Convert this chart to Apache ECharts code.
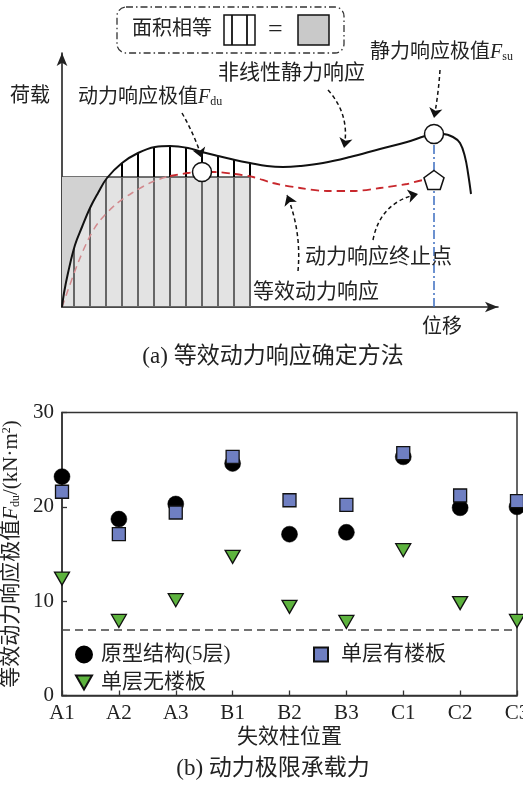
<!DOCTYPE html>
<html><head><meta charset="utf-8">
<script src="https://cdn.jsdelivr.net/npm/echarts/dist/echarts.min.js"></script>
<style>html,body{margin:0;padding:0;background:#fff}#c{width:523px;height:785px}</style>
</head><body><div id="c"></div>
<script>
// ===== (b) scatter data =====
const categories = ['A1','A2','A3','B1','B2','B3','C1','C2','C3'];
const prototype5 = [23.2,18.7,20.3,24.6,17.1,17.3,25.3,19.9,20.0];
const singleWithSlab = [21.6,17.1,19.4,25.3,20.7,20.2,25.7,21.2,20.6];
const singleNoSlab = [12.4,7.9,10.1,14.7,9.4,7.8,15.4,9.8,7.9];
const thresholdValue = 7.0;
const yTicks = [0,10,20,30];
const seriesNames = ['原型结构(5层)','单层有楼板','单层无楼板'];

// ===== (a) schematic data: [displacement, load] in schematic units =====
const staticCurve = [[0,0],[2,14],[6,34],[13,62],[20,80],[28,99],[36,114],[45,129],[60,144],[76,154],[93,160],[108,161],[126,159],[140,155],[156,151],[173,147],[188,144],[205,141],[221,140],[238,141],[261,144],[288,150],[318,158],[345,165],[363,171],[372,173],[381,173],[391,170],[398,164],[403,150],[406,134],[409,113]];
const dynamicCurveInner = [[0,0],[6,17],[16,44],[26,67],[36,84],[53,102],[70,114],[90,125],[108,131]];
const dynamicCurveOuter = [[108,131],[126,134],[140,135],[153,135],[173,133],[191,130],[211,124],[238,119],[265,116],[291,116],[318,119],[345,123],[363,127],[372,127]];
const hatchX = [12,28,44,60,76,92,108,124,140,156,172,188];
const hatchTop = [58,99,127,144,154,159,161,160,156,151,147,144];
const equivLoad = 130;
const equivDisp = 188;
const FduPoint = [140,135];
const FsuPoint = [372,173];
const endPoint = [372,127];
const arrows = [
  {from:[120,194], to:[140,149], curve:0.05},
  {from:[266,217], to:[282,159], curve:0.25},
  {from:[378,237], to:[372,189], curve:0.03},
  {from:[311,67],  to:[356,113], curve:0.33},
  {from:[236,36],  to:[225,112], curve:-0.12}
];

const SERIF = "'Liberation Serif','Noto Sans CJK SC',serif";
const TXT = '#222';

// region between the load axis, the static curve and the equivalent load level
const firstAbove = staticCurve.findIndex(p => p[1] > equivLoad);
const lead = staticCurve.slice(0, firstAbove);
const darkPoly = lead.concat([[lead[lead.length-1][0] + 1, equivLoad],[0, equivLoad]]);
const grayHatch = hatchX.map((x,i)=>({coords:[[x,0],[x,Math.min(hatchTop[i],equivLoad)]]}));
const blackHatch = hatchX.map((x,i)=>hatchTop[i]>equivLoad?{coords:[[x,equivLoad],[x,hatchTop[i]]]}:null).filter(Boolean);

const chart = echarts.init(document.getElementById('c'));
const sA = {xAxisIndex:1, yAxisIndex:1};
const pentagon = 'path://M10,0 L19.51,6.91 L15.88,18.09 L4.12,18.09 L0.49,6.91 Z';
const triDown = 'path://M0,0 L16,0 L8,14 Z';

function txt(x,y,text,size,extra){
  return {type:'text', x:x, y:y, z:100, style:Object.assign({text:text, fontSize:size, fontFamily:SERIF, fill:TXT, verticalAlign:'middle', align:'left'}, extra||{})};
}
const richF = {
  i:{fontStyle:'italic', fontSize:20, fontFamily:"'Liberation Serif',serif", fill:TXT, verticalAlign:'bottom'},
  s:{fontSize:12, fontFamily:"'Liberation Serif',serif", fill:TXT, verticalAlign:'bottom', padding:[6,0,0,0]}
};

chart.setOption({
  animation:false,
  backgroundColor:'#fff',
  grid:[
    {left:62, right:6, top:412.5, height:283, show:true, borderColor:'#333', borderWidth:1.5, backgroundColor:'transparent', containLabel:false, outerBoundsMode:'none'},
    {left:62, top:53, width:436, height:254, containLabel:false, outerBoundsMode:'none'}
  ],
  xAxis:[
    {type:'category', gridIndex:0, data:categories, boundaryGap:false,
     axisLine:{lineStyle:{color:'#333', width:1.5}},
     axisTick:{inside:true, length:5, lineStyle:{color:'#333', width:1.3}},
     axisLabel:{fontSize:21, fontFamily:SERIF, color:TXT, margin:7, hideOverlap:false},
     name:'失效柱位置', nameLocation:'middle', nameGap:31,
     nameTextStyle:{fontSize:21, fontFamily:SERIF, color:TXT}},
    {type:'value', gridIndex:1, min:0, max:436,
     axisLine:{show:true, symbol:['none','arrow'], symbolSize:[8,13], lineStyle:{color:'#222', width:1.6}},
     axisTick:{show:false}, axisLabel:{show:false}, splitLine:{show:false}}
  ],
  yAxis:[
    {type:'value', gridIndex:0, min:yTicks[0], max:yTicks[yTicks.length-1], interval:10,
     axisLine:{show:true, lineStyle:{color:'#333', width:1.5}},
     axisTick:{show:true, inside:true, length:5, lineStyle:{color:'#333', width:1.3}},
     axisLabel:{fontSize:21, fontFamily:SERIF, color:TXT, margin:8},
     splitLine:{show:false},
     name:'{t|等效动力响应极值}{i|F}{s|du}{t|/(kN·m}{p|2}{t|)}', nameLocation:'middle', nameGap:37,
     nameTextStyle:{fontSize:21, fontFamily:SERIF, color:TXT,
       rich:{t:{fontSize:21, fontFamily:SERIF, color:TXT},
             i:{fontSize:21, fontFamily:"'Liberation Serif',serif", fontStyle:'italic', color:TXT},
             s:{fontSize:12, fontFamily:"'Liberation Serif',serif", color:TXT, verticalAlign:'bottom'},
             p:{fontSize:12, fontFamily:"'Liberation Serif',serif", color:TXT, verticalAlign:'top'}}}},
    {type:'value', gridIndex:1, min:0, max:254,
     axisLine:{show:true, symbol:['none','arrow'], symbolSize:[8,13], lineStyle:{color:'#222', width:1.6}},
     axisTick:{show:false}, axisLabel:{show:false}, splitLine:{show:false}}
  ],
  legend:[
    {data:[seriesNames[0]], left:75, top:644, padding:0, itemWidth:16, itemHeight:16, selectedMode:false,
     textStyle:{fontSize:21, fontFamily:SERIF, color:TXT, padding:[0,0,0,4]}},
    {data:[seriesNames[1]], left:313, top:644, padding:0, itemWidth:14, itemHeight:14, selectedMode:false,
     textStyle:{fontSize:21, fontFamily:SERIF, color:TXT, padding:[0,0,0,8]}},
    {data:[seriesNames[2]], left:75, top:672, padding:0, itemWidth:16, itemHeight:14, selectedMode:false,
     textStyle:{fontSize:21, fontFamily:SERIF, color:TXT, padding:[0,0,0,4]}}
  ],
  series:[
    // ---- (b) ----
    {name:seriesNames[0], type:'scatter', xAxisIndex:0, yAxisIndex:0, data:prototype5, symbol:'circle', symbolSize:16,
     itemStyle:{color:'#000', borderColor:'#000', borderWidth:0.5, opacity:1}, z:3},
    {name:seriesNames[1], type:'scatter', xAxisIndex:0, yAxisIndex:0, data:singleWithSlab, symbol:'rect', symbolSize:13,
     itemStyle:{color:'#6f7fc2', borderColor:'#111', borderWidth:1.3, opacity:1}, z:4},
    {name:seriesNames[2], type:'scatter', xAxisIndex:0, yAxisIndex:0, data:singleNoSlab, symbol:triDown, symbolSize:[15,13],
     itemStyle:{color:'#5db33e', borderColor:'#111', borderWidth:1.3, opacity:1}, z:5,
     markLine:{silent:true, symbol:'none', label:{show:false},
       lineStyle:{type:[8,5], color:'#444', width:1.5}, data:[{yAxis:thresholdValue}]}},
    // ---- (a) ----
    Object.assign({type:'custom', data:[[0,0,equivDisp,equivLoad]], z:1, silent:true,
      renderItem:(p,api)=>{const a=api.coord([api.value(0),api.value(1)]), b=api.coord([api.value(2),api.value(3)]);
        return {type:'rect', shape:{x:a[0],y:b[1],width:b[0]-a[0],height:a[1]-b[1]}, style:{fill:'#e3e3e3', stroke:'#444', lineWidth:1.5}};}}, sA),
    Object.assign({type:'custom', data:[0], z:2, silent:true,
      renderItem:(p,api)=>({type:'polygon', shape:{points:darkPoly.map(q=>api.coord(q))}, style:{fill:'#d2d2d2'}})}, sA),
    Object.assign({type:'lines', coordinateSystem:'cartesian2d', data:grayHatch, z:3, silent:true, symbol:'none',
      lineStyle:{color:'#666', width:2, opacity:1}}, sA),
    Object.assign({type:'lines', coordinateSystem:'cartesian2d', data:blackHatch, z:3, silent:true, symbol:'none',
      lineStyle:{color:'#000', width:2, opacity:1}}, sA),
    Object.assign({type:'line', data:dynamicCurveInner, smooth:0.3, showSymbol:false, z:4, silent:true,
      lineStyle:{color:'#d28a8e', width:1.5, type:[7,5]}}, sA),
    Object.assign({type:'line', data:dynamicCurveOuter, smooth:0.3, showSymbol:false, z:4, silent:true,
      lineStyle:{color:'#c8282d', width:1.8, type:[8,5]}}, sA),
    Object.assign({type:'line', data:[[FsuPoint[0],0],[FsuPoint[0],FsuPoint[1]]], showSymbol:false, z:4, silent:true,
      lineStyle:{color:'#3b6dbf', width:1.5, type:[9,3,2,3]}}, sA),
    Object.assign({type:'line', data:staticCurve, smooth:0.4, showSymbol:false, z:5, silent:true,
      lineStyle:{color:'#111', width:2}}, sA),
    Object.assign({type:'lines', coordinateSystem:'cartesian2d', z:6, silent:true,
      symbol:['none','arrow'], symbolSize:10,
      lineStyle:{color:'#111', width:1.5, type:[4,3], opacity:1},
      data:arrows.map(a=>({coords:[a.from,a.to], lineStyle:{curveness:a.curve}}))}, sA),
    Object.assign({type:'scatter', data:[FduPoint, FsuPoint], symbol:'circle', symbolSize:19, z:10, silent:true,
      itemStyle:{color:'#fff', borderColor:'#111', borderWidth:1.5, opacity:1}}, sA),
    Object.assign({type:'scatter', data:[endPoint], symbol:pentagon, symbolSize:[20,19], z:10, silent:true,
      itemStyle:{color:'#fff', borderColor:'#111', borderWidth:1.5, opacity:1}}, sA)
  ],
  graphic:[
    {type:'rect', z:100, shape:{x:117,y:7,width:227,height:46,r:9}, style:{fill:'none', stroke:'#333', lineWidth:1.3, lineDash:[7,3,1.5,3]}},
    txt(132,30,'面积相等',20),
    {type:'rect', z:100, shape:{x:224,y:15,width:31,height:30}, style:{fill:'#fff', stroke:'#111', lineWidth:1.5}},
    {type:'line', z:101, shape:{x1:232,y1:15,x2:232,y2:45}, style:{stroke:'#111', lineWidth:1.8}},
    {type:'line', z:101, shape:{x1:247,y1:15,x2:247,y2:45}, style:{stroke:'#111', lineWidth:1.8}},
    txt(268,30,'=',26,{fontFamily:"'Liberation Serif',serif"}),
    {type:'rect', z:100, shape:{x:298,y:15,width:31,height:30}, style:{fill:'#c9c9c9', stroke:'#111', lineWidth:1.5}},
    txt(10,97,'荷载',20),
    txt(78,98,'动力响应极值{i|F}{s|du}',20,{rich:richF}),
    txt(218,73,'非线性静力响应',21),
    txt(370,53,'静力响应极值{i|F}{s|su}',20,{rich:richF}),
    txt(305,257,'动力响应终止点',21),
    txt(253,292,'等效动力响应',21),
    txt(422,328,'位移',20),
    txt(273,357,'(a) 等效动力响应确定方法',23,{align:'center'}),
    txt(273,769,'(b) 动力极限承载力',23,{align:'center'})
  ]
});
</script></body></html>
